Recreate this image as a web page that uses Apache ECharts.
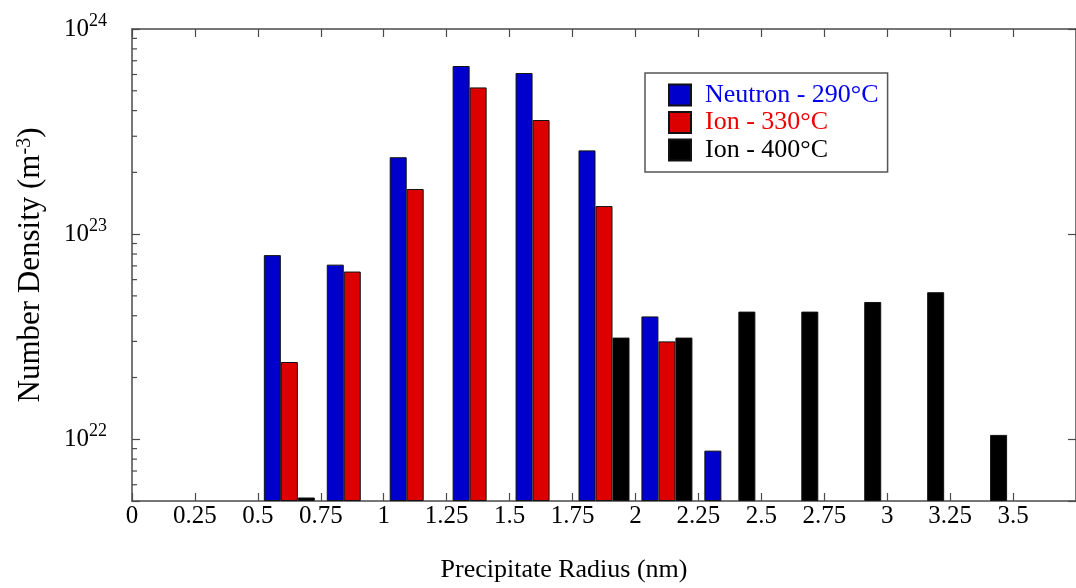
<!DOCTYPE html>
<html><head><meta charset="utf-8">
<script src="https://cdn.jsdelivr.net/npm/echarts@6/dist/echarts.min.js"></script>
<style>html,body{margin:0;padding:0;background:#fff}#chart{width:1076px;height:588px}</style>
</head><body><div id="chart"></div>
<script>
// Bin centres (nm) and number densities (m^-3)
const radiusBins = [0.625, 0.875, 1.125, 1.375, 1.625, 1.875, 2.125, 2.375, 2.625, 2.875, 3.125, 3.375];
const neutron290 = [7.9e22, 7.1e22, 2.37e23, 6.6e23, 6.1e23, 2.56e23, 3.97e22, 8.8e21, null, null, null, null];
const ion330 = [2.38e22, 6.57e22, 1.66e23, 5.19e23, 3.6e23, 1.37e23, 3.0e22, null, null, null, null, null];
const ion400 = [5.2e21, null, null, null, null, 3.13e22, 3.13e22, 4.19e22, 4.19e22, 4.67e22, 5.21e22, 1.05e22];
const seriesNames = ['Neutron - 290°C', 'Ion - 330°C', 'Ion - 400°C'];
const seriesColors = ['#0000cc', '#dd0000', '#000000'];
const legendTextColors = ['#0000ee', '#ee0000', '#000000'];
const yMinorTicks = [6e21, 7e21, 8e21, 9e21, 2e22, 3e22, 4e22, 5e22, 6e22, 7e22, 8e22, 9e22,
                     2e23, 3e23, 4e23, 5e23, 6e23, 7e23, 8e23, 9e23];
const xMin = 0, xMax = 3.75, xStep = 0.25;
const yMin = 5e21, yMax = 1e24;

const FONT = "'Liberation Serif', 'Times New Roman', serif";
const AXIS_COLOR = '#4a4a4a';

function pairs(values) {
  const out = [];
  values.forEach((v, i) => { if (v != null) out.push([radiusBins[i], v]); });
  return out;
}

const chart = echarts.init(document.getElementById('chart'), null, {renderer: 'canvas'});
const barSeries = [neutron290, ion330, ion400].map((vals, k) => ({
  name: seriesNames[k],
  type: 'bar',
  xAxisIndex: 0, yAxisIndex: 0,
  data: pairs(vals),
  barWidth: 17,
  barGap: '0%',
  clip: true,
  itemStyle: {color: seriesColors[k], borderColor: '#111', borderWidth: 1}
}));

const option = {
  animation: false,
  backgroundColor: '#fff',
  grid: {left: 132, top: 29, width: 951, height: 476, containLabel: false},
  legend: {
    orient: 'vertical', left: 645, top: 73,
    itemWidth: 22, itemHeight: 21, itemGap: 1.5,
    padding: [9, 9, 9, 23],
    borderColor: '#555', borderWidth: 1.5,
    icon: 'rect',
    textStyle: {fontFamily: FONT, fontSize: 26, padding: [0, 0, 0, 9]},
    data: seriesNames.map((n, k) => ({name: n, textStyle: {color: legendTextColors[k]}}))
  },
  xAxis: [{
    type: 'value', position: 'bottom', min: xMin, max: xMax, interval: xStep,
    axisLine: {show: true, onZero: false, lineStyle: {color: AXIS_COLOR, width: 1.5}},
    axisTick: {show: true, inside: true, length: 8, lineStyle: {color: AXIS_COLOR, width: 1.2}},
    axisLabel: {show: true, margin: 3, fontFamily: FONT, fontSize: 25, color: '#000', showMaxLabel: false},
    splitLine: {show: false},
    name: 'Precipitate Radius (nm)', nameLocation: 'middle', nameGap: 56,
    nameTextStyle: {fontFamily: FONT, fontSize: 26, color: '#000', padding: [0, 80, 0, 0]}
  }, {
    type: 'value', position: 'top', min: xMin, max: xMax, interval: xStep,
    axisLine: {show: true, onZero: false, lineStyle: {color: AXIS_COLOR, width: 1.5}},
    axisTick: {show: true, inside: true, length: 8, lineStyle: {color: AXIS_COLOR, width: 1.2}},
    axisLabel: {show: false}, splitLine: {show: false}
  }],
  yAxis: [{
    type: 'log', logBase: 10, position: 'left', min: yMin, max: yMax, startValue: yMin,
    axisLine: {show: true, onZero: false, lineStyle: {color: AXIS_COLOR, width: 1.5}},
    axisTick: {show: true, inside: true, length: 8, lineStyle: {color: AXIS_COLOR, width: 1.2}},
    minorTick: {show: false},
    splitLine: {show: false},
    axisLabel: {
      show: true, margin: 25,
      formatter: function (v) {
        const e = Math.log10(v);
        if (Math.abs(e - Math.round(e)) > 1e-6) return '';
        return '{b|10}{s|' + Math.round(e) + '}';
      },
      rich: {
        b: {fontFamily: FONT, fontSize: 25, color: '#000', lineHeight: 34},
        s: {fontFamily: FONT, fontSize: 18, color: '#000', lineHeight: 18, verticalAlign: 'top'}
      }
    },
    name: 'Number Density (m{s|-3})', nameLocation: 'middle', nameRotate: 90, nameGap: 86,
    nameTextStyle: {
      fontFamily: FONT, fontSize: 31, color: '#000',
      rich: {s: {fontFamily: FONT, fontSize: 20, color: '#000', verticalAlign: 'top', lineHeight: 20}}
    }
  }, {
    type: 'log', logBase: 10, position: 'right', min: yMin, max: yMax,
    axisLine: {show: true, onZero: false, lineStyle: {color: AXIS_COLOR, width: 1.5}},
    axisTick: {show: true, inside: true, length: 8, lineStyle: {color: AXIS_COLOR, width: 1.2}},
    axisLabel: {show: false}, splitLine: {show: false}
  }],
  series: barSeries.concat([{
    type: 'custom', name: 'yMinorTicks', coordinateSystem: 'cartesian2d',
    xAxisIndex: 0, yAxisIndex: 0, silent: true, clip: false, z: 5,
    data: yMinorTicks.map(v => [xMin, v]),
    renderItem: function (params, api) {
      const p = api.coord([api.value(0), api.value(1)]);
      return {type: 'line', shape: {x1: p[0], y1: p[1], x2: p[0] + 5, y2: p[1]},
              style: {stroke: AXIS_COLOR, lineWidth: 1.2}};
    }
  }])
};
chart.setOption(option);
</script>
</body></html>
